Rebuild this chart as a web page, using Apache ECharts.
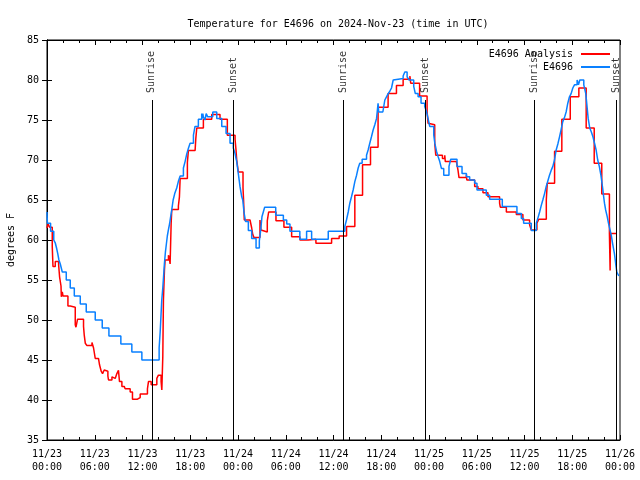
<!DOCTYPE html>
<html>
<head>
<meta charset="utf-8">
<script src="https://cdn.jsdelivr.net/npm/echarts@6/dist/echarts.min.js"></script>
<style>html,body{margin:0;padding:0;background:#fff;}#c{width:640px;height:480px;}</style>
</head>
<body>
<div id="c"></div>
<script>
// Hours since 2024-11-23 00:00 UTC
const analysisHours = [0.0,0.13,0.33,0.66,0.75,1.04,1.46,1.58,1.76,1.8,1.92,2.01,2.63,2.92,3.55,3.64,3.84,4.59,4.68,4.81,5.02,5.65,5.72,5.85,6.06,6.47,6.6,6.81,6.98,7.19,7.44,7.65,7.73,8.16,8.32,8.57,8.78,8.98,9.11,9.41,9.7,9.82,10.45,10.74,11.37,11.49,11.71,12.62,12.75,13.09,13.8,14.0,14.34,14.43,14.55,14.63,14.76,14.84,15.26,15.35,15.47,15.6,15.68,16.51,16.64,16.73,17.64,17.77,18.61,18.7,18.82,19.65,20.7,21.74,22.66,23.63,23.75,23.84,24.04,24.63,24.7,24.79,25.51,25.72,25.85,26.01,26.76,26.89,27.1,27.68,27.85,28.77,29.77,30.74,31.78,32.82,33.79,35.76,36.71,37.64,38.68,39.65,40.65,41.6,42.86,43.91,44.75,45.6,45.7,46.82,47.76,47.88,48.0,48.72,48.85,49.69,49.98,50.05,51.44,51.64,51.77,52.7,52.75,53.74,54.15,54.78,55.41,56.87,56.96,57.72,58.97,59.8,60.64,60.85,61.56,61.8,62.74,62.86,63.78,64.69,65.75,66.83,67.75,68.76,69.71,70.67,70.76,70.8,71.52];
const analysisTemps = [61.5,62.0,61.6,59.2,56.7,57.3,56.9,55.4,54.25,52.9,53.5,53.0,51.75,51.6,49.4,49.1,50.1,49.2,48.1,47.1,46.8,47.2,47.4,46.5,45.2,45.0,44.4,43.6,43.3,43.75,43.6,43.0,42.5,42.9,42.7,42.9,43.3,43.7,42.3,41.7,41.9,41.4,41.0,40.1,39.9,40.3,40.75,41.4,42.3,41.9,42.7,43.1,42.3,41.25,45.4,52.5,56.25,57.5,58.1,57.8,57.0,62.1,63.8,64.25,65.4,67.7,69.7,71.2,71.0,72.7,74.0,75.1,75.7,75.1,73.1,72.6,71.25,70.0,68.5,66.5,65.0,62.5,62.7,61.5,60.7,60.3,62.5,61.25,61.0,62.4,63.5,62.4,61.6,60.4,60.0,60.1,59.6,60.2,60.5,61.7,65.6,69.4,71.6,76.6,78.3,79.3,80.1,80.5,79.6,78.0,76.1,74.6,74.4,72.1,70.6,70.2,70.6,69.8,69.6,68.75,67.8,68.2,67.5,66.7,66.4,65.9,65.4,64.6,64.1,63.5,63.2,62.5,61.9,61.25,62.1,62.6,65.0,67.1,71.1,75.1,77.9,79.0,74.0,69.6,65.75,60.8,56.2,60.8,60.8];

const obsHours = [0.0,0.05,0.45,0.85,1.05,1.2,1.35,1.5,1.67,1.92,2.42,2.92,3.43,4.18,4.93,6.06,6.94,7.78,9.28,10.66,11.92,14.09,14.22,14.32,14.42,14.55,14.65,14.75,14.88,15.0,15.12,15.26,15.4,15.52,15.68,15.85,16.05,16.3,16.5,16.73,17.14,17.35,17.57,17.78,17.98,18.4,18.6,19.02,19.44,19.5,19.58,19.65,19.86,20.0,20.2,20.49,20.83,21.33,21.96,22.5,23.0,23.41,23.63,23.84,24.04,24.25,24.47,24.6,24.75,24.95,25.3,25.72,26.27,26.68,26.85,27.01,27.18,27.35,28.74,29.7,30.12,30.53,31.77,32.62,33.25,35.34,37.43,37.63,37.85,38.05,38.26,38.47,38.68,38.9,39.1,39.3,39.6,40.15,40.35,40.56,40.77,40.98,41.19,41.41,41.6,41.68,42.2,42.45,42.66,42.87,43.08,43.29,43.5,43.7,44.75,44.96,45.25,45.5,46.08,46.28,46.63,47.0,47.46,47.67,47.88,48.09,48.6,48.73,48.94,49.15,49.35,49.56,49.85,50.51,50.73,51.52,52.15,52.7,53.11,53.74,54.03,55.2,55.62,57.21,59.05,59.6,59.89,60.85,61.48,61.7,61.9,62.1,62.3,62.52,62.73,62.94,63.14,63.35,63.56,63.77,63.98,64.19,64.4,64.6,64.81,65.02,65.23,65.44,65.65,65.86,66.07,66.28,66.61,66.78,66.95,67.45,67.7,67.8,67.9,68.0,68.2,68.4,68.6,68.8,69.0,69.2,69.4,69.6,69.82,69.95,70.05,70.2,70.4,70.55,70.75,70.9,71.1,71.3,71.4,71.5,71.6,71.85];
const obsTemps = [63.5,62.1,61.1,60.0,59.6,59.0,58.3,57.5,57.0,56.0,55.0,54.0,53.0,52.0,51.0,50.0,49.0,48.0,47.0,46.0,45.0,46.5,48.5,50.5,52.5,54.0,55.5,57.0,58.5,59.5,60.5,61.3,62.0,62.8,63.8,65.0,65.8,66.5,67.3,68.0,69.0,69.8,70.8,71.5,72.1,73.1,74.2,75.1,75.8,75.2,75.8,75.4,75.0,75.8,75.4,75.4,76.0,75.2,74.2,73.3,72.1,71.5,70.8,69.8,68.3,66.7,65.4,65.0,63.5,62.3,61.2,60.2,59.0,59.9,61.2,62.9,63.5,64.1,63.1,62.5,62.0,61.1,60.1,61.1,60.1,61.1,61.7,62.5,63.5,64.6,65.4,66.25,67.3,68.1,69.0,69.6,70.1,70.6,71.25,72.1,72.9,73.75,74.4,75.2,77.1,76.0,76.25,77.5,77.9,78.3,78.6,79.0,80.0,80.2,80.5,81.0,80.4,80.0,79.2,78.3,77.9,77.1,76.7,76.1,75.2,74.2,73.1,72.1,71.1,70.4,69.8,68.95,68.1,69.2,70.1,69.2,68.3,67.9,67.5,67.1,66.25,65.6,65.1,64.2,63.3,62.7,62.1,61.2,62.1,62.8,63.5,64.3,65.0,65.8,66.7,67.4,68.1,68.7,69.2,70.0,71.25,72.0,72.9,73.8,74.8,75.3,76.0,77.1,77.9,78.3,79.0,79.4,80.0,79.4,80.0,79.4,78.3,77.3,76.25,75.2,74.0,73.5,72.9,72.1,71.25,70.0,69.2,68.1,66.5,65.4,64.6,63.75,62.9,62.1,61.25,60.6,59.4,58.3,57.5,56.7,56.0,55.5];

const eventHours = [13.17, 23.44, 37.24, 47.53, 61.2, 71.54];
const eventLabels = ['Sunrise', 'Sunset', 'Sunrise', 'Sunset', 'Sunrise', 'Sunset'];
const eventTop = 77.5;
const yMin = 35, yMax = 85, yStep = 5;
const xMin = 0, xMax = 72, xStep = 6;

const FONT = 'DejaVu Sans Mono';
const pairs = (xs, ys) => xs.map((x, i) => [x, ys[i]]);
const pad = n => (n < 10 ? '0' : '') + n;
const fmtX = v => {
  const d = 23 + Math.floor(v / 24);
  const h = Math.round(v % 24);
  return '11/' + d + '\n' + pad(h) + ':00';
};

const chart = echarts.init(document.getElementById('c'), null, {renderer: 'canvas'});
const baseX = {
  type: 'value', min: xMin, max: xMax, interval: xStep,
  axisLine: {show: true, lineStyle: {color: '#000', width: 1}},
  axisTick: {show: true, inside: true, length: 5, lineStyle: {color: '#000'}},
  minorTick: {show: true, splitNumber: 3, length: 3, lineStyle: {color: '#000'}},
  splitLine: {show: false}
};
const baseY = {
  type: 'value', min: yMin, max: yMax, interval: yStep,
  axisLine: {show: true, lineStyle: {color: '#000', width: 1}},
  axisTick: {show: true, inside: true, length: 5, lineStyle: {color: '#000'}},
  splitLine: {show: false}
};
chart.setOption({
  animation: false,
  backgroundColor: '#fff',
  textStyle: {fontFamily: FONT, fontSize: 10, color: '#000'},
  title: {
    text: 'Temperature for E4696 on 2024-Nov-23 (time in UTC)',
    left: 333, top: 14, textAlign: 'center',
    textStyle: {fontFamily: FONT, fontSize: 10, fontWeight: 'normal', color: '#000'}
  },
  grid: {left: 47, right: 20, top: 40, bottom: 40, outerBoundsMode: 'none', containLabel: false, show: true, borderColor: '#000', borderWidth: 1, backgroundColor: 'transparent'},
  legend: {
    orient: 'vertical', right: 25, top: 44, align: 'right', itemGap: 3,
    itemWidth: 29, itemHeight: 2, icon: 'rect',
    textStyle: {fontFamily: FONT, fontSize: 10, color: '#000', padding: [0, 3, 0, 0]},
    data: ['E4696 Analysis', 'E4696']
  },
  xAxis: [
    Object.assign({}, baseX, {
      position: 'bottom',
      axisLabel: {show: true, margin: 8, fontFamily: FONT, fontSize: 10, color: '#000', lineHeight: 13, showMinLabel: true, showMaxLabel: true, formatter: fmtX}
    }),
    Object.assign({}, baseX, {position: 'top', axisLabel: {show: false}})
  ],
  yAxis: [
    Object.assign({}, baseY, {
      position: 'left',
      name: 'degrees F', nameLocation: 'middle', nameGap: 31, nameRotate: 90,
      nameTextStyle: {fontFamily: FONT, fontSize: 10, color: '#000'},
      axisLabel: {show: true, margin: 8, fontFamily: FONT, fontSize: 10, color: '#000'}
    }),
    Object.assign({}, baseY, {position: 'right', axisLabel: {show: false}})
  ],
  series: [
    {
      name: 'E4696 Analysis', type: 'line', step: 'end', symbol: 'none',
      data: pairs(analysisHours, analysisTemps),
      lineStyle: {color: '#ff0000', width: 1.5}, itemStyle: {color: '#ff0000'}, z: 3
    },
    {
      name: 'E4696', type: 'line', step: 'end', symbol: 'none',
      data: pairs(obsHours, obsTemps),
      lineStyle: {color: '#0a80ff', width: 1.5}, itemStyle: {color: '#0a80ff'}, z: 4
    },
    {
      name: 'events', type: 'scatter', symbolSize: 0, silent: true, z: 5,
      data: eventHours.map((h, i) => ({value: [h, eventTop], name: eventLabels[i]})),
      label: {
        show: true, position: 'top', distance: 7, rotate: 90,
        align: 'left', verticalAlign: 'middle',
        fontFamily: FONT, fontSize: 10, color: '#000', formatter: '{b}'
      },
      markLine: {
        silent: true, symbol: ['none', 'none'], animation: false,
        label: {show: false},
        lineStyle: {color: '#000', width: 1, type: 'solid'},
        data: eventHours.map(h => [{coord: [h, yMin]}, {coord: [h, eventTop]}])
      }
    }
  ]
});
</script>
</body>
</html>
